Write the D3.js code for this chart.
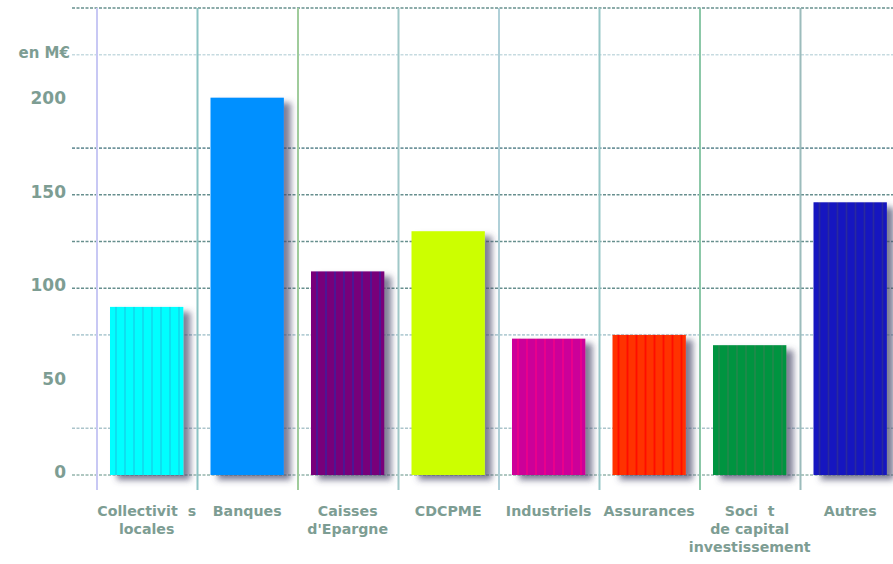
<!DOCTYPE html>
<html>
<head>
<meta charset="utf-8">
<script src="https://cdn.jsdelivr.net/npm/d3@7"></script>
<style>
  body { margin: 0; background: #fff; }
  svg { display: block; }
  .lbl { font-family: "DejaVu Sans", sans-serif; font-weight: bold; fill: #7d9d93; }
</style>
</head>
<body>
<div id="chart"></div>
<script>
// bar data
var categories = ["Collectivit  s|locales", "Banques", "Caisses|d'Epargne", "CDCPME", "Industriels", "Assurances", "Soci  t|de capital|investissement", "Autres"];
var values = [90, 202, 109, 130.5, 73, 75, 69.5, 146];
var barColors = ["#00ffff", "#0090ff", "#78007a", "#ccff00", "#cc0099", "#ff3300", "#009440", "#1414c0"];
var stripeColors = ["#10e0f0", null, "#4e1494", null, "#e8008c", "#ff0c00", "#1a8a4a", "#2a2aa0"];
var yTicks = [0, 50, 100, 150, 200];
var gridValues = [0, 25, 75, 100, 125, 150, 175, 225, 250];

const width = 893, height = 564;

var svg = d3.select("#chart").append("svg")
    .attr("width", width)
    .attr("height", height);

var defs = svg.append("defs");

var shadow = defs.append("filter")
    .attr("id", "shadow")
    .attr("x", "-20%").attr("y", "-10%")
    .attr("width", "150%").attr("height", "130%");
shadow.append("feDropShadow")
    .attr("dx", 7).attr("dy", 5)
    .attr("stdDeviation", 3)
    .attr("flood-color", "#4a4a6a")
    .attr("flood-opacity", 0.7);

var x = d3.scaleBand()
    .domain(categories)
    .range([97, 97 + 8 * 100.5]);

var y = d3.scaleLinear()
    .domain([0, 250])
    .range([475, 8]);

// stripe patterns
categories.forEach(function (c, i) {
    if (!stripeColors[i]) return;
    var p = defs.append("pattern")
        .attr("id", "stripe" + i)
        .attr("patternUnits", "userSpaceOnUse")
        .attr("x", x(c) + 13)
        .attr("width", 9).attr("height", 10);
    p.append("rect").attr("width", 9).attr("height", 10).attr("fill", barColors[i]);
    p.append("rect").attr("x", 5).attr("width", 2).attr("height", 10).attr("fill", stripeColors[i]);
});

// horizontal grid
var gridColors = ["#8fb0a8", "#7fa5b0", "#8fb5c0", "#5f8a88", "#5f8a88", "#5f8a88", "#6a9098", "#a8c8d0", "#5f8a88"];
svg.append("g")
    .selectAll("line")
    .data(gridValues)
    .enter()
    .append("line")
    .attr("x1", 72).attr("x2", width)
    .attr("y1", function (d) { return y(d); })
    .attr("y2", function (d) { return y(d); })
    .attr("stroke", function (d, i) { return gridColors[i]; })
    .attr("stroke-width", 1.6)
    .attr("stroke-dasharray", "3,1.5")
    .attr("opacity", function (d) { return (d == 25 || d == 75 || d == 225) ? 0.65 : 0.95; });

// vertical grid
var vColors = ["#c8c8f4", "#8cc4c4", "#a0cc9c", "#a0c8c8", "#b0d0d8", "#98c8c8", "#8cc8a8", "#9cbcbc"];
svg.append("g")
    .selectAll("line")
    .data(categories)
    .enter()
    .append("line")
    .attr("x1", function (d) { return x(d); })
    .attr("x2", function (d) { return x(d); })
    .attr("y1", 8).attr("y2", 490)
    .attr("stroke", function (d, i) { return vColors[i]; })
    .attr("stroke-width", 2);

// bars
var bw = x.bandwidth() * 0.73;
svg.append("g")
    .selectAll("rect")
    .data(values)
    .enter()
    .append("rect")
    .attr("x", function (d, i) { return x(categories[i]) + 13; })
    .attr("y", function (d) { return y(d); })
    .attr("width", bw)
    .attr("height", function (d) { return y(0) - y(d); })
    .attr("fill", function (d, i) { return stripeColors[i] ? "url(#stripe" + i + ")" : barColors[i]; })
    .attr("filter", "url(#shadow)");

// y tick labels
svg.append("g")
    .selectAll("text")
    .data(yTicks)
    .enter()
    .append("text")
    .attr("class", "lbl")
    .attr("x", 66)
    .attr("y", function (d) { return y(d) + 3; })
    .attr("text-anchor", "end")
    .style("font-size", "17px")
    .text(function (d) { return d; });

svg.append("text")
    .attr("class", "lbl")
    .attr("x", 70)
    .attr("y", 58)
    .attr("text-anchor", "end")
    .style("font-size", "15px")
    .text("en M€");

// category labels
var catLabels = svg.append("g")
    .selectAll("text")
    .data(categories)
    .enter()
    .append("text")
    .attr("class", "lbl")
    .attr("text-anchor", "middle")
    .style("font-size", "14.2px")
    .style("white-space", "pre")
    .attr("transform", function (d) { return "translate(" + (x(d) + 13 + bw / 2) + ",516)"; });

catLabels.selectAll("tspan")
    .data(function (d) { return d.split("|"); })
    .enter()
    .append("tspan")
    .attr("x", 0)
    .attr("dy", function (d, i) { return i == 0 ? 0 : 18; })
    .text(function (d) { return d; });
</script>
</body>
</html>
